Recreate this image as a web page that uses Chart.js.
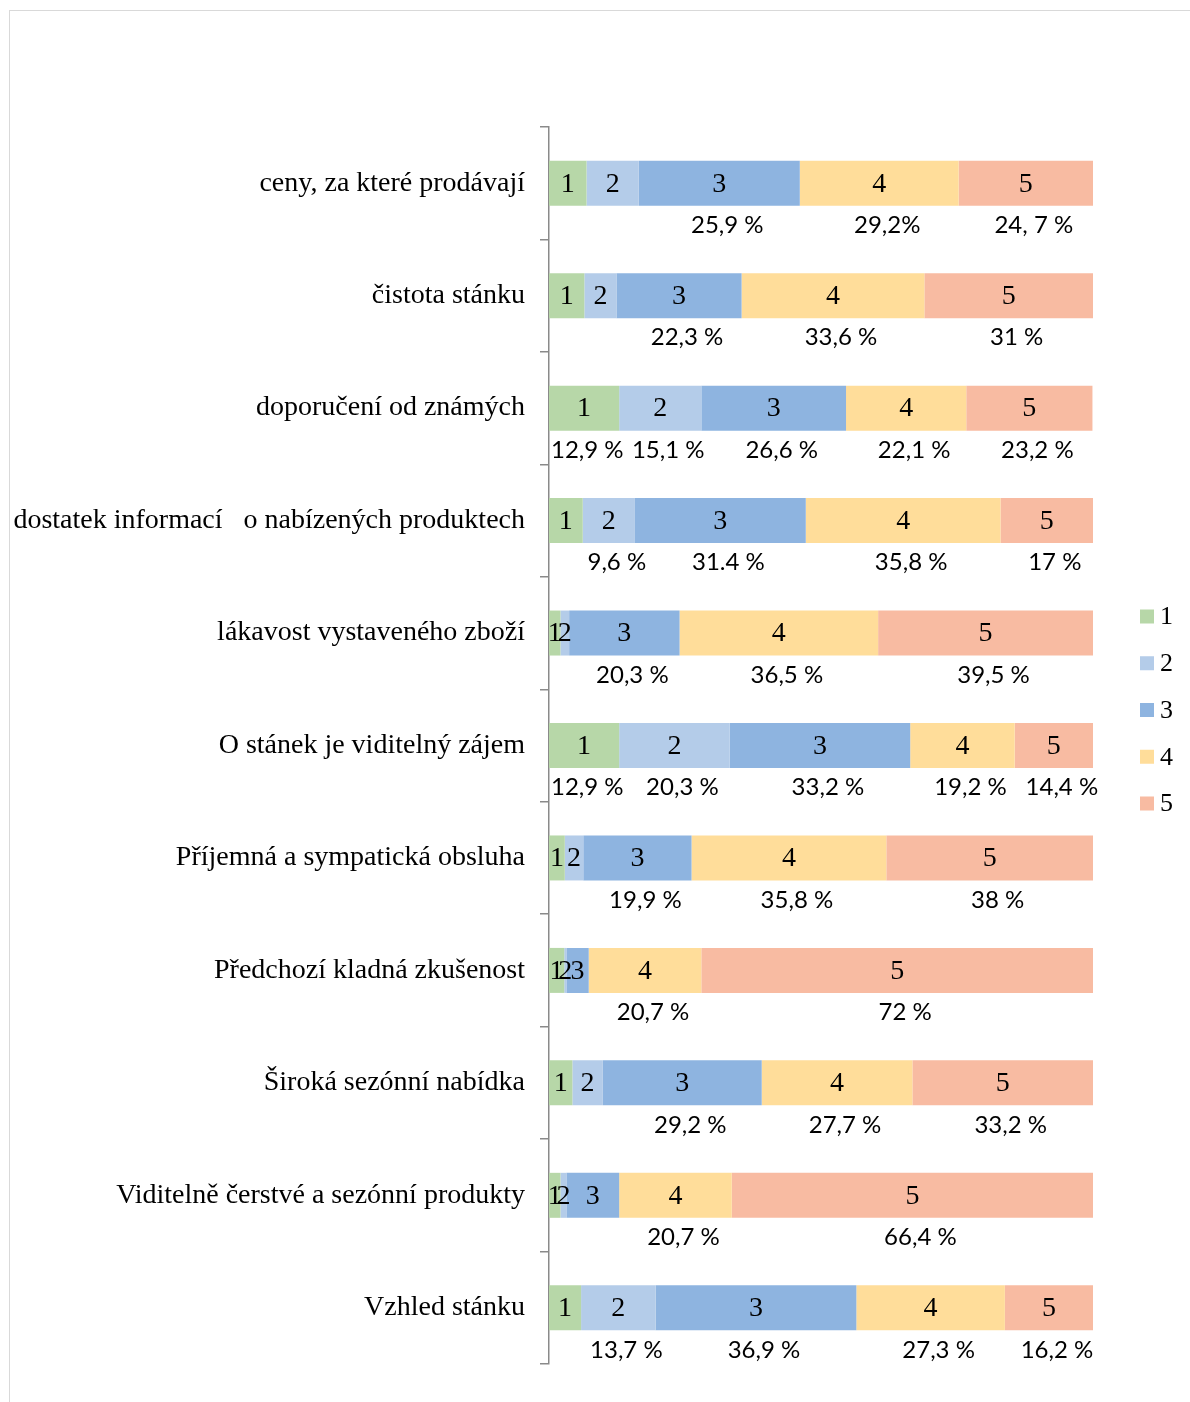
<!DOCTYPE html>
<html>
<head>
<meta charset="utf-8">
<script src="https://cdn.jsdelivr.net/npm/chart.js@4.4.1/dist/chart.umd.min.js"></script>
<style>
  html, body { margin: 0; padding: 0; background: #fff; overflow: hidden; }
  #frame { position: absolute; left: 9px; top: 10px; width: 1200px; height: 1400px; border: 1px solid #d9d9d9; box-sizing: border-box; }
  #wrap { position: absolute; left: 0; top: 0; width: 1190px; height: 1402px; }
</style>
</head>
<body>
<div id="frame"></div>
<div id="wrap"><canvas id="c" width="1190" height="1402"></canvas></div>
<script>
const categories = [
  'ceny, za které prodávají',
  'čistota stánku',
  'doporučení od známých',
  'dostatek informací   o nabízených produktech',
  'lákavost vystaveného zboží',
  'O stánek je viditelný zájem',
  'Příjemná a sympatická obsluha',
  'Předchozí kladná zkušenost',
  'Široká sezónní nabídka',
  'Viditelně čerstvé a sezónní produkty',
  'Vzhled stánku'
];
const seriesNames = ['1', '2', '3', '4', '5'];
const series1 = [6.9, 6.5, 12.9, 6.2, 2.1, 12.9, 2.9, 2.8, 4.3, 2.1, 5.9];
const series2 = [9.6, 5.9, 15.1, 9.6, 1.6, 20.3, 3.4, 0.4, 5.6, 1.1, 13.7];
const series3 = [29.6, 23.0, 26.6, 31.4, 20.3, 33.2, 19.9, 4.1, 29.2, 9.7, 36.9];
const series4 = [29.2, 33.6, 22.1, 35.8, 36.5, 19.2, 35.8, 20.7, 27.7, 20.7, 27.3];
const series5 = [24.7, 31.0, 23.2, 17.0, 39.5, 14.4, 38.0, 72.0, 33.2, 66.4, 16.2];
// percentage annotations under the bars (per category, per series; null = none)
const percentLabels = [
  [null, null, '25,9 %', '29,2%', '24, 7 %'],
  [null, null, '22,3 %', '33,6 %', '31 %'],
  ['12,9 %', '15,1 %', '26,6 %', '22,1 %', '23,2 %'],
  [null, '9,6 %', '31.4 %', '35,8 %', '17 %'],
  [null, null, '20,3 %', '36,5 %', '39,5 %'],
  ['12,9 %', '20,3 %', '33,2 %', '19,2 %', '14,4 %'],
  [null, null, '19,9 %', '35,8 %', '38 %'],
  [null, null, null, '20,7 %', '72 %'],
  [null, null, '29,2 %', '27,7 %', '33,2 %'],
  [null, null, null, '20,7 %', '66,4 %'],
  [null, '13,7 %', '36,9 %', '27,3 %', '16,2 %']
];

const colors = ['#b7d7a8', '#b4cce9', '#8eb4e0', '#ffdd9a', '#f8bba2'];
const allSeries = [series1, series2, series3, series4, series5];
const SERIF = "'Liberation Serif', 'Times New Roman', serif";
const SANS = "Lato, 'Open Sans', sans-serif";

const labelPlugin = {
  id: 'labels',
  afterDatasetsDraw(chart) {
    const ctx = chart.ctx;
    ctx.save();
    ctx.textBaseline = 'middle';
    chart.data.datasets.forEach((ds, i) => {
      const meta = chart.getDatasetMeta(i);
      meta.data.forEach((bar, j) => {
        const cx = (bar.x + bar.base) / 2;
        ctx.textAlign = 'center';
        ctx.fillStyle = '#000';
        ctx.font = '28px ' + SERIF;
        ctx.fillText(ds.label, cx, bar.y + 1);
        const p = percentLabels[j][i];
        if (p) {
          ctx.font = '24px ' + SANS;
          const w = ctx.measureText(p).width;
          let lx = cx + 8 - w / 2;
          if (i === 0 && w > (bar.x - bar.base)) lx = bar.base + 2;
          ctx.textAlign = 'left';
          ctx.fillText(p, lx, bar.y + 42);
        }
      });
    });
    ctx.restore();
  },
  afterDraw(chart) {
    const ctx = chart.ctx;
    ctx.save();
    const n = chart.data.datasets.length;
    const step = 46.75;
    const cy = 710;
    const x0 = 1140;
    ctx.textAlign = 'left';
    ctx.textBaseline = 'middle';
    ctx.font = '26px ' + SERIF;
    chart.data.datasets.forEach((ds, i) => {
      const y = cy + (i - (n - 1) / 2) * step;
      ctx.fillStyle = ds.backgroundColor;
      ctx.fillRect(x0, y - 7, 14, 14);
      ctx.fillStyle = '#000';
      ctx.fillText(ds.label, x0 + 20, y + 1);
    });
    ctx.restore();
  }
};

new Chart(document.getElementById('c'), {
  type: 'bar',
  data: {
    labels: categories,
    datasets: allSeries.map((d, i) => ({
      label: seriesNames[i],
      data: d,
      backgroundColor: colors[i],
      borderWidth: 0,
      barPercentage: 1,
      categoryPercentage: 0.4
    }))
  },
  options: {
    indexAxis: 'y',
    responsive: false,
    animation: false,
    layout: { padding: { left: 0, right: 97, top: 127, bottom: 38 } },
    plugins: {
      legend: { display: false },
      tooltip: { enabled: false }
    },
    scales: {
      x: { stacked: true, min: 0, max: 100, display: false },
      y: {
        stacked: true,
        offset: true,
        grid: { offset: true, drawOnChartArea: false, drawTicks: true, tickLength: 9, color: '#8a8a8a', lineWidth: 1.5 },
        border: { display: true, color: '#8a8a8a', width: 1.5 },
        ticks: { color: '#000', font: { family: SERIF, size: 28 }, padding: 15 },
        afterFit(scale) { scale.width = 549; }
      }
    }
  },
  plugins: [labelPlugin]
});
</script>
</body>
</html>
